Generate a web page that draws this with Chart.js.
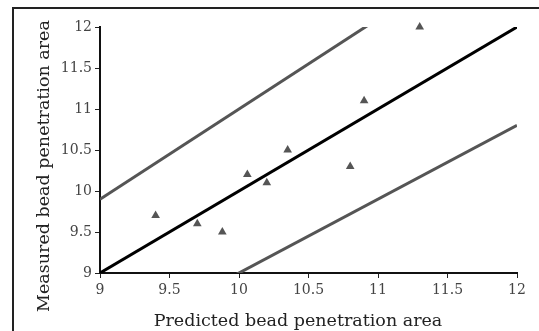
<!DOCTYPE html>
<html>
<head>
<meta charset="utf-8">
<script src="https://cdn.jsdelivr.net/npm/chart.js@4/dist/chart.umd.min.js"></script>
<style>
  html, body { margin: 0; padding: 0; background: #fff; }
  #wrap { position: relative; width: 539px; height: 331px; }
  #frame { position: absolute; left: 12px; top: 7px; width: 540px; height: 340px;
           border-top: 2px solid #222; border-left: 2px solid #222; box-sizing: border-box; }
  canvas { position: absolute; left: 0; top: 0; }
</style>
</head>
<body>
<div id="wrap">
  <div id="frame"></div>
  <canvas id="chart" width="539" height="331"></canvas>
</div>
<script>
// measured vs predicted points
const predicted = [9.4, 9.7, 9.88, 10.06, 10.2, 10.35, 10.8, 10.9, 11.3];
const measured  = [9.7, 9.6, 9.5, 10.2, 10.1, 10.5, 10.3, 11.1, 12.0];

// reference lines y = k * x  (perfect fit and +/-10%)
const refSlopes = [1.0, 1.1, 0.9];
const refColors = ['#000', '#555', '#555'];
const axisRange = [9, 12];
const tickStep = 0.5;

const xTitle = 'Predicted bead penetration area';
const yTitle = 'Measured bead penetration area';

const serif = '"DejaVu Serif", "Liberation Serif", serif';

const lineSets = refSlopes.map((k, i) => ({
  type: 'line',
  data: axisRange.map(x => ({ x: x, y: k * x })),
  borderColor: refColors[i],
  borderWidth: 3,
  pointRadius: 0,
  fill: false,
  order: 2
}));

const pointSet = {
  type: 'scatter',
  data: predicted.map((x, i) => ({ x: x, y: measured[i] })),
  pointStyle: 'triangle',
  pointRadius: 5,
  backgroundColor: '#555',
  borderColor: '#555',
  borderWidth: 0,
  clip: false,
  order: 1
};

const tickFmt = v => String(v);

// axis titles are placed relative to the whole figure, not the plot area
const axisTitles = {
  id: 'axisTitles',
  afterDraw(chart) {
    const ctx = chart.ctx;
    ctx.save();
    ctx.fillStyle = '#222';
    ctx.font = '17.5px ' + serif;
    ctx.textAlign = 'center';
    ctx.textBaseline = 'middle';
    ctx.fillText(xTitle, 298, 321);
    ctx.translate(44, 166);
    ctx.rotate(-Math.PI / 2);
    ctx.fillText(yTitle, 0, 0);
    ctx.restore();
  }
};

new Chart(document.getElementById('chart'), {
  type: 'scatter',
  data: { datasets: [...lineSets, pointSet] },
  plugins: [axisTitles],
  options: {
    responsive: false,
    animation: false,
    layout: { padding: { left: 0, top: 27, right: 22, bottom: 0 } },
    plugins: { legend: { display: false }, tooltip: { enabled: false } },
    scales: {
      x: {
        type: 'linear',
        min: axisRange[0], max: axisRange[1],
        ticks: { stepSize: tickStep, color: '#444', font: { family: serif, size: 14 }, padding: 4, callback: tickFmt },
        grid: { drawOnChartArea: false, tickLength: 5, color: '#222', tickWidth: 1 },
        border: { color: '#111', width: 2 },
        afterFit: s => { s.height = 58; }
      },
      y: {
        type: 'linear',
        min: axisRange[0], max: axisRange[1],
        ticks: { stepSize: tickStep, color: '#444', font: { family: serif, size: 14 }, padding: 3, callback: tickFmt },
        grid: { drawOnChartArea: false, tickLength: 5, color: '#222', tickWidth: 1 },
        border: { color: '#111', width: 2 },
        afterFit: s => { s.width = 100; }
      }
    }
  }
});
</script>
</body>
</html>
